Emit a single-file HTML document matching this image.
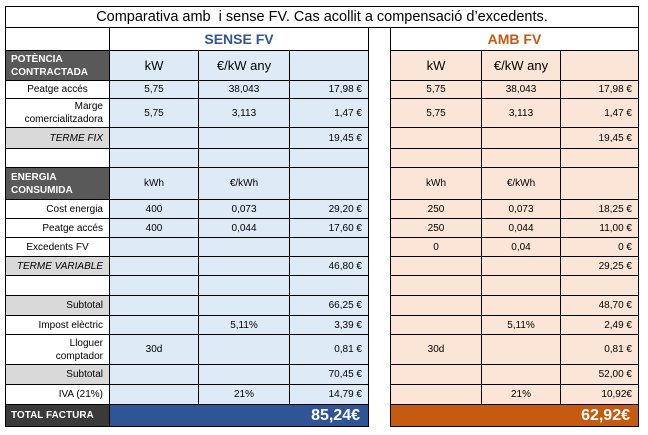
<!DOCTYPE html>
<html><head><meta charset="utf-8"><style>
html,body{margin:0;padding:0;background:#fff;width:648px;height:435px;overflow:hidden}
table{position:absolute;left:5px;top:6px;border-collapse:collapse;table-layout:fixed;font-family:"Liberation Sans",sans-serif;font-size:10px;color:#000}
td{border:1px solid #000;padding:0;text-align:center;overflow:hidden;line-height:13px}
.l{text-align:right;padding-right:6px;background:#fff}
.g{background:#d9d9d9}
.dk{background:#595959;color:#fff;font-weight:bold;text-align:left;padding-left:5px;font-size:10px}
.b{background:#deebf7}.o{background:#fbe5d6}
.r{text-align:right;padding-right:6px}
.i{font-style:italic}
.h{font-size:13px}
.gap{background:#fff;border-top:none;border-bottom:none}
</style></head><body>
<table>
<colgroup><col style="width:104px"><col style="width:89px"><col style="width:91px"><col style="width:79px"><col style="width:22px"><col style="width:91px"><col style="width:79px"><col style="width:78px"></colgroup>
<tr style="height:21px"><td colspan="8" style="font-size:14.5px">Comparativa amb&nbsp; i sense FV. Cas acollit a compensació d’excedents.</td></tr>
<tr style="height:23px"><td></td><td colspan="3" style="color:#2f5597;font-weight:bold;font-size:14px">SENSE FV</td><td class="gap" rowspan="18"></td><td colspan="3" style="color:#c55a11;font-weight:bold;font-size:14px">AMB FV</td></tr>
<tr style="height:30px"><td class="dk">POTÈNCIA<br>CONTRACTADA</td><td class="b h">kW</td><td class="b h">€/kW any</td><td class="b"></td><td class="o h">kW</td><td class="o h">€/kW any</td><td class="o"></td></tr>
<tr style="height:18px"><td class="l" style="text-align:center;padding:0">Peatge accés</td><td class="b">5,75</td><td class="b">38,043</td><td class="b r">17,98 €</td><td class="o">5,75</td><td class="o">38,043</td><td class="o r">17,98 €</td></tr>
<tr style="height:29px"><td class="l">Marge<br>comercialitzadora</td><td class="b">5,75</td><td class="b">3,113</td><td class="b r">1,47 €</td><td class="o">5,75</td><td class="o">3,113</td><td class="o r">1,47 €</td></tr>
<tr style="height:21px"><td class="l g i">TERME FIX</td><td class="b"></td><td class="b"></td><td class="b r">19,45 €</td><td class="o"></td><td class="o"></td><td class="o r">19,45 €</td></tr>
<tr style="height:19px"><td class="l"></td><td class="b"></td><td class="b"></td><td class="b"></td><td class="o"></td><td class="o"></td><td class="o"></td></tr>
<tr style="height:32px"><td class="dk">ENERGIA<br>CONSUMIDA</td><td class="b">kWh</td><td class="b">€/kWh</td><td class="b"></td><td class="o">kWh</td><td class="o">€/kWh</td><td class="o"></td></tr>
<tr style="height:19px"><td class="l">Cost energia</td><td class="b">400</td><td class="b">0,073</td><td class="b r">29,20 €</td><td class="o">250</td><td class="o">0,073</td><td class="o r">18,25 €</td></tr>
<tr style="height:19px"><td class="l">Peatge accés</td><td class="b">400</td><td class="b">0,044</td><td class="b r">17,60 €</td><td class="o">250</td><td class="o">0,044</td><td class="o r">11,00 €</td></tr>
<tr style="height:19px"><td class="l" style="text-align:center;padding:0">Excedents FV</td><td class="b"></td><td class="b"></td><td class="b"></td><td class="o">0</td><td class="o">0,04</td><td class="o r">0 €</td></tr>
<tr style="height:19px"><td class="l g i">TERME VARIABLE</td><td class="b"></td><td class="b"></td><td class="b r">46,80 €</td><td class="o"></td><td class="o"></td><td class="o r">29,25 €</td></tr>
<tr style="height:20px"><td class="l"></td><td class="b"></td><td class="b"></td><td class="b"></td><td class="o"></td><td class="o"></td><td class="o"></td></tr>
<tr style="height:20px"><td class="l g">Subtotal</td><td class="b"></td><td class="b"></td><td class="b r">66,25 €</td><td class="o"></td><td class="o"></td><td class="o r">48,70 €</td></tr>
<tr style="height:19px"><td class="l">Impost elèctric</td><td class="b"></td><td class="b">5,11%</td><td class="b r">3,39 €</td><td class="o"></td><td class="o">5,11%</td><td class="o r">2,49 €</td></tr>
<tr style="height:30px"><td class="l">Lloguer<br>comptador</td><td class="b">30d</td><td class="b"></td><td class="b r">0,81 €</td><td class="o">30d</td><td class="o"></td><td class="o r">0,81 €</td></tr>
<tr style="height:20px"><td class="l g">Subtotal</td><td class="b"></td><td class="b"></td><td class="b r">70,45 €</td><td class="o"></td><td class="o"></td><td class="o r">52,00 €</td></tr>
<tr style="height:20px"><td class="l">IVA (21%)</td><td class="b"></td><td class="b">21%</td><td class="b r">14,79 €</td><td class="o"></td><td class="o">21%</td><td class="o r">10,92€</td></tr>
<tr style="height:22px"><td class="dk" style="background:#3a3a3a">TOTAL FACTURA</td><td colspan="3" style="background:#2f5597;color:#fff;font-weight:bold;font-size:16px;text-align:right;padding-right:8px">85,24€</td><td colspan="3" style="background:#c55a11;color:#fff;font-weight:bold;font-size:16px;text-align:right;padding-right:8px">62,92€</td></tr>
</table>
</body></html>
